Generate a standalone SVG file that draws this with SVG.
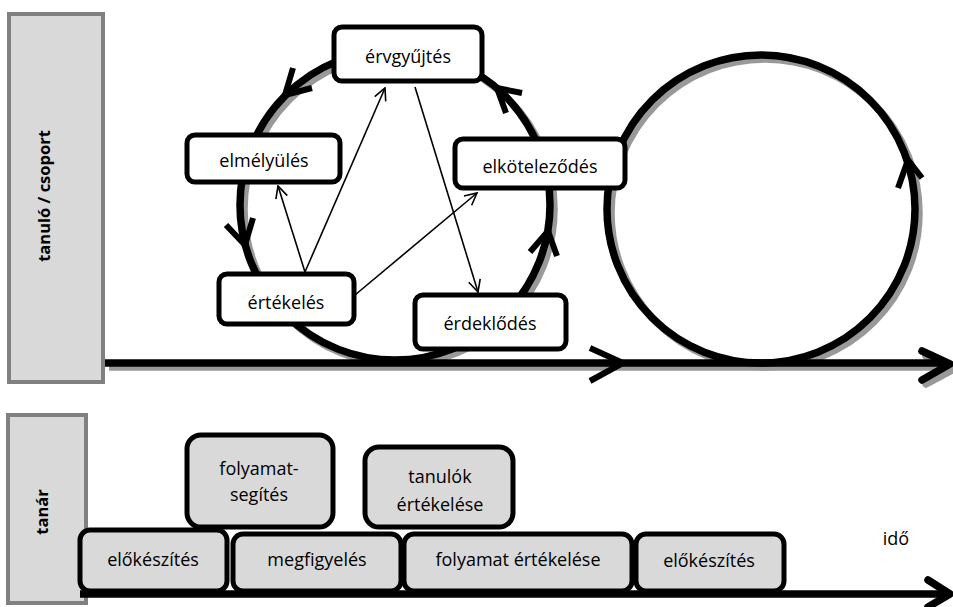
<svg xmlns="http://www.w3.org/2000/svg" width="953" height="607" viewBox="0 0 953 607">
  <defs>
    <marker id="open-arrow" viewBox="0 0 14 14" refX="13" refY="7" markerWidth="14" markerHeight="14" markerUnits="userSpaceOnUse" orient="auto">
      <path d="M1,1 L13,7 L1,13" fill="none" stroke="#000" stroke-width="1.6"/>
    </marker>
    <filter id="soft" x="-5%" y="-5%" width="110%" height="110%">
      <feGaussianBlur stdDeviation="0.5"/>
    </filter>
  </defs>
  <style>
    .lane { fill: #d9d9d9; stroke: #808080; stroke-width: 4; }
    .lane-label { font-family: "Open Sans", "Liberation Sans", sans-serif; font-size: 16.5px; font-weight: bold; fill: #000; text-anchor: middle; }
    .loop { fill: none; stroke: #000; stroke-width: 7.5; }
    .shadow { fill: none; stroke: #999; stroke-width: 7.5; }
    .chev { fill: none; stroke: #000; stroke-width: 6; stroke-linejoin: miter; }
    .stage { fill: #fff; stroke: #000; stroke-width: 5; }
    .task { fill: #d9d9d9; stroke: #000; stroke-width: 5; }
    .lbl { font-family: "Open Sans", "Liberation Sans", sans-serif; font-size: 18px; fill: #000; text-anchor: middle; }
    .link { fill: none; stroke: #000; stroke-width: 1.6; marker-end: url(#open-arrow); }
  </style>

  <rect width="953" height="607" fill="#fff"/>

  <!-- swim lanes -->
  <g id="lane-student">
    <rect class="lane" x="9" y="14" width="94" height="368"/>
    <text class="lane-label" transform="translate(50,196) rotate(-90)">tanuló / csoport</text>
  </g>
  <g id="lane-teacher">
    <rect class="lane" x="8" y="415" width="78" height="188"/>
    <text class="lane-label" transform="translate(48,512) rotate(-90)">tanár</text>
  </g>

  <!-- drop shadows of the loops and the time axis -->
  <g id="shadows" transform="translate(4,4)" filter="url(#soft)">
    <circle class="shadow" cx="395" cy="205" r="155"/>
    <circle class="shadow" cx="761" cy="209" r="154"/>
    <line class="shadow" x1="105" y1="363" x2="946" y2="363"/>
    <polyline class="shadow" points="922,352 950,365 922,380" stroke-linecap="round"/>
  </g>

  <!-- loops, time axes and direction marks -->
  <g id="connectors">
    <circle class="loop" cx="395" cy="205" r="155"/>
    <circle class="loop" cx="761" cy="209" r="154"/>
    <line class="loop" x1="105" y1="363" x2="948" y2="363"/>
    <polyline class="chev" points="590,348 623,363 590,381"/>
    <polyline class="loop" points="922,351 950,364 922,380" stroke-linecap="round" stroke-linejoin="round"/>

    <polyline class="chev" points="312,88 285,95 293,68"/>
    <polyline class="chev" points="253,218 245,245 226,225"/>
    <polyline class="chev" points="506,113 497,88 522,93"/>
    <polyline class="chev" points="530,252 548,231 557,256"/>
    <polyline class="chev" points="898,188 908,160 922,178"/>

    <line class="loop" x1="80" y1="594" x2="948" y2="594" stroke-width="8"/>
    <polyline class="loop" points="928,580 950,594 928,607" stroke-linecap="round" stroke-linejoin="round" stroke-width="8"/>

    <line class="link" x1="305" y1="272" x2="385" y2="88"/>
    <line class="link" x1="305" y1="272" x2="278" y2="186"/>
    <line class="link" x1="355" y1="295" x2="477" y2="193"/>
    <line class="link" x1="415" y1="87" x2="478" y2="292"/>
  </g>

  <!-- learning stages -->
  <g id="ervgyujtes">
    <rect class="stage" x="334" y="27" width="148" height="54" rx="8"/>
    <text class="lbl" x="408" y="63">érvgyűjtés</text>
  </g>
  <g id="elmelyules">
    <rect class="stage" x="187" y="135" width="153" height="47" rx="8"/>
    <text class="lbl" x="264" y="167">elmélyülés</text>
  </g>
  <g id="elkotelezodes">
    <rect class="stage" x="455" y="139" width="170" height="49" rx="8"/>
    <text class="lbl" x="540" y="173">elköteleződés</text>
  </g>
  <g id="ertekeles">
    <rect class="stage" x="219" y="274" width="135" height="50" rx="8"/>
    <text class="lbl" x="286" y="309">értékelés</text>
  </g>
  <g id="erdeklodes">
    <rect class="stage" x="415" y="295" width="151" height="54" rx="8"/>
    <text class="lbl" x="490" y="330">érdeklődés</text>
  </g>

  <!-- teacher tasks -->
  <g id="folyamatsegites">
    <rect class="task" x="187" y="435" width="146" height="92" rx="14"/>
    <text class="lbl" x="259" y="475">folyamat-</text>
    <text class="lbl" x="259" y="501">segítés</text>
  </g>
  <g id="tanulok-ertekelese">
    <rect class="task" x="365" y="447" width="148" height="80" rx="14"/>
    <text class="lbl" x="440" y="483">tanulók</text>
    <text class="lbl" x="440" y="511">értékelése</text>
  </g>
  <g id="elokeszites-1">
    <rect class="task" x="80" y="530" width="147" height="61" rx="10"/>
    <text class="lbl" x="153" y="566">előkészítés</text>
  </g>
  <g id="megfigyeles">
    <rect class="task" x="233" y="534" width="168" height="57" rx="10"/>
    <text class="lbl" x="317" y="566">megfigyelés</text>
  </g>
  <g id="folyamat-ertekelese">
    <rect class="task" x="404" y="534" width="228" height="57" rx="10"/>
    <text class="lbl" x="518" y="566">folyamat értékelése</text>
  </g>
  <g id="elokeszites-2">
    <rect class="task" x="636" y="534" width="148" height="57" rx="10"/>
    <text class="lbl" x="709" y="567">előkészítés</text>
  </g>

  <text id="ido" class="lbl" x="896" y="545">idő</text>
</svg>
